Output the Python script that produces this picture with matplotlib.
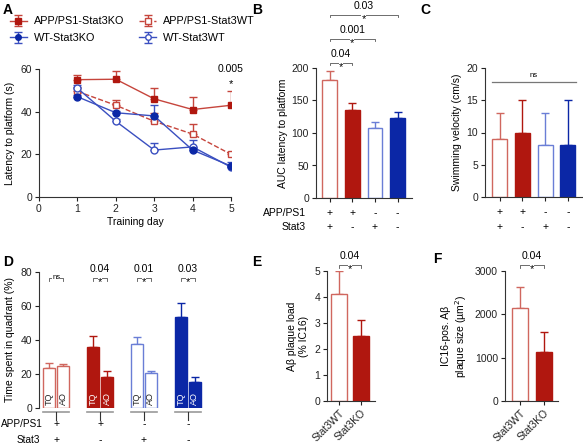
import matplotlib

matplotlib.use("Agg")
import matplotlib.pyplot as plt
import numpy as np

plt.rcParams["font.family"] = ["Liberation Sans", "DejaVu Sans"]
plt.rcParams["font.size"] = 7.5
plt.rcParams["axes.linewidth"] = 0.8
plt.rcParams["axes.edgecolor"] = "#333333"
plt.rcParams["xtick.major.size"] = 3
plt.rcParams["ytick.major.size"] = 3
plt.rcParams["xtick.major.width"] = 0.8
plt.rcParams["ytick.major.width"] = 0.8

RED = "#b0170f"
RED_L = "#d0675f"
BLUE = "#0b27a6"
BLUE_L = "#6a7ed6"

# ---- A: latency over training days ----
DAYS = [1, 2, 3, 4, 5]
APP_KO = [55, 55.2, 46, 41, 43]
APP_KO_ERR = [2, 4, 5, 6, 6.5]
APP_WT = [49.5, 43, 35.5, 29.5, 20]
APP_WT_ERR = [2, 2.5, 4, 4.5, 1]
WT_KO = [47, 39.5, 38, 22, 14.5]
WT_KO_ERR = [1, 1, 5, 1, 2]
WT_WT = [51, 35.5, 22, 23.5, 14]
WT_WT_ERR = [1.5, 1, 3.5, 3, 1]

# ---- B / C: AUC and swim speed ----
GROUP_APP = ["+", "+", "-", "-"]
GROUP_STAT3 = ["+", "-", "+", "-"]
AUC = [181, 135, 107, 123]
AUC_ERR = [14, 11, 10, 10]
SPEED = [9, 10, 8, 8]
SPEED_ERR = [4, 5, 5, 7]

# ---- D: probe trial ----
QUAD_TQ = [23.5, 36, 37.5, 53.5]
QUAD_TQ_ERR = [3, 6.5, 4.5, 8]
QUAD_AO = [25, 18.5, 20.5, 15.5]
QUAD_AO_ERR = [1, 3, 1.5, 2.5]
D_PVALS = ["ns", "0.04", "0.01", "0.03"]

# ---- E / F: plaques ----
PLAQUE_CATS = ["Stat3WT", "Stat3KO"]
PLAQUE_LOAD = [4.1, 2.5]
PLAQUE_LOAD_ERR = [0.9, 0.6]
PLAQUE_SIZE = [2150, 1130]
PLAQUE_SIZE_ERR = [470, 460]

FILL4 = ["white", RED, "white", BLUE]
EDGE4 = [RED_L, RED, BLUE_L, BLUE]

W, H = 583, 446
fig = plt.figure(figsize=(W / 100, H / 100), dpi=100)


def px_axes(l, t, r, b):
    return fig.add_axes([l / W, 1 - b / H, (r - l) / W, (b - t) / H])


def style(ax):
    ax.spines["top"].set_visible(False)
    ax.spines["right"].set_visible(False)
    ax.tick_params(labelsize=7.5, pad=2, colors="#222222")


def bars(ax, x, vals, errs, fills, edges, width):
    for xi, v, e, f, ec in zip(x, vals, errs, fills, edges):
        ax.bar(xi, v, width, color=f, edgecolor=ec, linewidth=1.0, zorder=2)
        ax.errorbar(xi, v, yerr=[[0], [e]], color=ec, capsize=3, lw=1.0,
                    capthick=1.0, zorder=1)


def bracket(ax, x1, x2, y, h, text, fs=7.5, label="*", lfs=8):
    xm = (x1 + x2) / 2
    ax.plot([x1, x1, x2, x2], [y - h, y, y, y - h], color="#555555", lw=0.6,
            clip_on=False, zorder=1)
    if label == "*":
        ax.annotate("*", (xm, y), xytext=(0, -5.0), textcoords="offset points",
                    ha="center", va="baseline", fontsize=lfs, annotation_clip=False,
                    bbox=dict(fc="white", ec="none", pad=0.0))
    else:
        ax.annotate(label, (xm, y), xytext=(0, 0), textcoords="offset points",
                    ha="center", va="center", fontsize=lfs, annotation_clip=False,
                    bbox=dict(fc="white", ec="none", pad=0.2))
    if text:
        ax.annotate(text, (xm, y), xytext=(0, 2.6), textcoords="offset points",
                    ha="center", va="bottom", fontsize=fs, annotation_clip=False)


# ================= A =================
axA = px_axes(39, 69, 231, 197)
style(axA)
axA.errorbar(DAYS, APP_KO, yerr=[np.zeros(5), APP_KO_ERR], color="#c6453c",
             marker="s", ms=5, mfc=RED, mec=RED, lw=1, capsize=3,
             label="APP/PS1-Stat3KO", zorder=4)
axA.errorbar(DAYS, APP_WT, yerr=[np.zeros(5), APP_WT_ERR], color="#c6453c",
             ls="--", marker="s", ms=5, mfc="white", mec="#c6453c", lw=1,
             capsize=3, label="APP/PS1-Stat3WT", zorder=3)
axA.errorbar(DAYS, WT_KO, yerr=[np.zeros(5), WT_KO_ERR], color="#3a4fc0",
             marker="o", ms=5, mfc=BLUE, mec=BLUE, lw=1, capsize=3,
             label="WT-Stat3KO", zorder=4)
axA.errorbar(DAYS, WT_WT, yerr=[np.zeros(5), WT_WT_ERR], color="#3a4fc0",
             marker="o", ms=5, mfc="white", mec="#3a4fc0", lw=1, capsize=3,
             label="WT-Stat3WT", zorder=3)
axA.set_xlim(0, 5)
axA.set_ylim(0, 60)
axA.set_xticks([0, 1, 2, 3, 4, 5])
axA.set_yticks([0, 20, 40, 60])
axA.set_xlabel("Training day", fontsize=7.5, labelpad=2)
axA.set_ylabel("Latency to platform (s)", fontsize=7.5, labelpad=4)
axA.text(5, 60, "0.005", ha="center", va="center", fontsize=7.5, clip_on=False)
axA.text(5, 53, "*", ha="center", va="center", fontsize=8, clip_on=False)
handles, labels = axA.get_legend_handles_labels()
order = [0, 2, 1, 3]
fig.legend([handles[i] for i in order], [labels[i] for i in order], ncol=2,
           loc="upper left", bbox_to_anchor=(0.0, 0.985), frameon=False,
           fontsize=7.8, handlelength=1.6, handletextpad=0.6, columnspacing=1.4,
           labelspacing=0.6, markerscale=0.8)

# ================= B =================
axB = px_axes(316, 68, 412, 198)
style(axB)
xB = np.arange(4)
bars(axB, xB, AUC, AUC_ERR, FILL4, EDGE4, 0.66)
axB.set_xlim(-0.6, 3.63)
axB.set_ylim(0, 200)
axB.set_yticks([0, 50, 100, 150, 200])
axB.set_xticks(xB)
axB.set_xticklabels([])
axB.set_ylabel("AUC latency to platform", fontsize=7.5, labelpad=3)
bracket(axB, 0, 1, 208, 4, "0.04")
bracket(axB, 0, 2, 245, 4, "0.001")
bracket(axB, 0, 3, 282, 4, "0.03")
tr = axB.get_xaxis_transform()
for xi, a, s in zip(xB, GROUP_APP, GROUP_STAT3):
    axB.text(xi, -0.115, a, transform=tr, ha="center", va="center", fontsize=7.5)
    axB.text(xi, -0.225, s, transform=tr, ha="center", va="center", fontsize=7.5)
fig.text(306 / W, 1 - 213 / H, "APP/PS1", ha="right", va="center", fontsize=7.5)
fig.text(306 / W, 1 - 227 / H, "Stat3", ha="right", va="center", fontsize=7.5)

# ================= C =================
axC = px_axes(485, 68, 582, 197)
style(axC)
xC = np.arange(4)
bars(axC, xC, SPEED, SPEED_ERR, FILL4, EDGE4, 0.66)
axC.set_xlim(-0.64, 3.62)
axC.set_ylim(0, 20)
axC.set_yticks([0, 5, 10, 15, 20])
axC.set_xticks(xC)
axC.set_xticklabels([])
axC.set_ylabel("Swimming velocity (cm/s)", fontsize=7.5, labelpad=3)
axC.plot([-0.33, 3.35], [17.8, 17.8], color="#777777", lw=0.9)
axC.text(1.5, 18.3, "ns", ha="center", va="bottom", fontsize=5.5)
tr = axC.get_xaxis_transform()
for xi, a, s in zip(xC, GROUP_APP, GROUP_STAT3):
    axC.text(xi, -0.12, a, transform=tr, ha="center", va="center", fontsize=7.5)
    axC.text(xi, -0.23, s, transform=tr, ha="center", va="center", fontsize=7.5)

# ================= D =================
axD = px_axes(39, 272, 205, 408)
style(axD)
axD.spines["bottom"].set_visible(False)
g = np.arange(4)
off = 0.16
bw = 0.26
bars(axD, g - off, QUAD_TQ, QUAD_TQ_ERR, FILL4, EDGE4, bw)
bars(axD, g + off, QUAD_AO, QUAD_AO_ERR, FILL4, EDGE4, bw)
axD.set_xlim(-0.39, 3.39)
axD.set_ylim(0, 80)
axD.set_yticks([0, 20, 40, 60, 80])
axD.set_xticks([])
axD.set_ylabel("Time spent in quadrant (%)", fontsize=7.5, labelpad=4)
tr = axD.get_xaxis_transform()
for gi, f in zip(g, FILL4):
    tc = "white" if f != "white" else "#222222"
    axD.text(gi - off, 1.5, "TQ", rotation=90, ha="center", va="bottom",
             color=tc, fontsize=6.5)
    axD.text(gi + off, 1.5, "AO", rotation=90, ha="center", va="bottom",
             color=tc, fontsize=6.5)
    axD.plot([gi - 0.3, gi + 0.3], [-0.03, -0.03], transform=tr, color="#999999",
             lw=1.2, clip_on=False)
    axD.plot([gi, gi], [-0.03, -0.085], transform=tr, color="#333333", lw=0.8,
             clip_on=False)
for gi, a, s in zip(g, GROUP_APP, GROUP_STAT3):
    axD.text(gi, -0.12, a, transform=tr, ha="center", va="center", fontsize=7.5)
    axD.text(gi, -0.235, s, transform=tr, ha="center", va="center", fontsize=7.5)
fig.text(1 / W, 1 - 424 / H, "APP/PS1", ha="left", va="center", fontsize=7.2)
fig.text(40 / W, 1 - 440 / H, "Stat3", ha="right", va="center", fontsize=7.2)
for gi, p in zip(g, D_PVALS):
    if p == "ns":
        bracket(axD, gi - off, gi + off, 76.5, 1.5, None, label="ns", lfs=5.5)
    else:
        bracket(axD, gi - off, gi + off, 76.5, 1.5, p)

# ================= E =================
axE = px_axes(327, 271, 375, 401)
style(axE)
xE = np.arange(2)
bars(axE, xE, PLAQUE_LOAD, PLAQUE_LOAD_ERR, ["white", RED], [RED_L, RED], 0.73)
axE.set_xlim(-0.545, 1.64)
axE.set_ylim(0, 5)
axE.set_yticks([0, 1, 2, 3, 4, 5])
axE.set_xticks(xE)
axE.set_xticklabels(PLAQUE_CATS, rotation=45, ha="right", rotation_mode="anchor")
axE.set_ylabel("A\u03b2 plaque load\n(% IC16)", fontsize=7.5, labelpad=4)
bracket(axE, 0, 1, 5.23, 0.1, "0.04")

# ================= F =================
axF = px_axes(505, 271, 558, 401)
style(axF)
xF = np.arange(2)
bars(axF, xF, PLAQUE_SIZE, PLAQUE_SIZE_ERR, ["white", RED], [RED_L, RED], 0.67)
axF.set_xlim(-0.625, 1.58)
axF.set_ylim(0, 3000)
axF.set_yticks([0, 1000, 2000, 3000])
axF.set_xticks(xF)
axF.set_xticklabels(PLAQUE_CATS, rotation=45, ha="right", rotation_mode="anchor")
axF.set_ylabel("IC16-pos. A\u03b2\nplaque size (\u00b5m$^2$)", fontsize=7.5,
               labelpad=4)
bracket(axF, 0, 1, 3140, 60, "0.04")

# ---- panel letters ----
for lab, x, y in [("A", 3, 10), ("B", 252, 10), ("C", 420, 10), ("D", 3, 262),
                  ("E", 252, 262), ("F", 433, 259)]:
    fig.text(x / W, 1 - y / H, lab, fontsize=10, fontweight="bold", va="center",
             ha="left")

fig.savefig("out.png", dpi=100)
